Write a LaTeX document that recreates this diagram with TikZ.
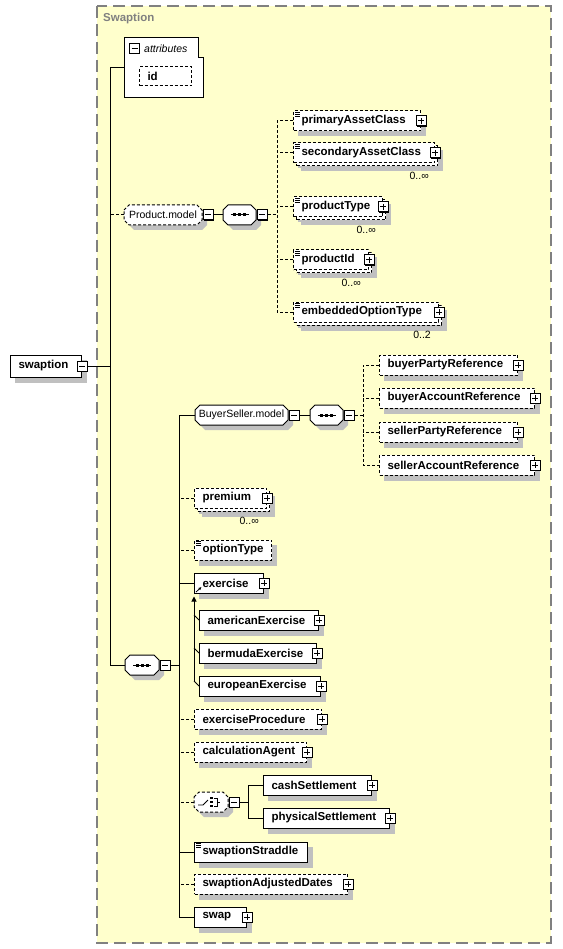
\documentclass[tikz,border=0pt]{standalone}
\usepackage{fontspec}
\setmainfont{Liberation Sans}
\usetikzlibrary{shadows,arrows.meta,calc}
\definecolor{bgy}{RGB}{255,255,204}
\definecolor{shd}{RGB}{192,192,192}
\definecolor{frm}{RGB}{128,128,128}
\pgfdeclarelayer{frmlayer}
\pgfdeclarelayer{shdlayer}
\pgfsetlayers{frmlayer,shdlayer,main}
\newcommand\elfont{\fontsize{11.5}{13}\selectfont\bfseries}
\newcommand\rgfont{\fontsize{10.5}{12}\selectfont}
\newcommand\mtfont{\fontsize{10.5}{12}\selectfont}
\tikzset{
  base/.style={draw, line width=1pt, fill=white, inner sep=0pt},
  el/.style={base, rectangle, anchor=west, minimum height=20pt, inner xsep=8pt, align=left, font=\elfont},
  opt/.style={dash pattern=on 3pt off 2pt},
  rep/.style={copy shadow={shadow xshift=3pt, shadow yshift=-3pt, draw=black, fill=white, line width=1pt, dash pattern=on 3pt off 2pt}},
  octtext/.style={rectangle, minimum height=20pt, inner sep=0pt, font=\rgfont},
  icon/.style={draw, line width=1pt, fill=white, minimum size=10pt, inner sep=0pt},
  plusi/.style={icon, path picture={
      \draw[line width=1pt] ($(path picture bounding box.center)+(-3,0)$) -- ($(path picture bounding box.center)+(3,0)$);
      \draw[line width=1pt] ($(path picture bounding box.center)+(0,-3)$) -- ($(path picture bounding box.center)+(0,3)$);}},
  minusi/.style={icon, path picture={
      \draw[line width=1pt] ($(path picture bounding box.center)+(-3,0)$) -- ($(path picture bounding box.center)+(3,0)$);}},
  mult/.style={font=\mtfont, inner sep=0pt, anchor=north east},
  conn/.style={line width=1pt},
}
\newcommand\xshadow[2]{%
  \begin{pgfonlayer}{shdlayer}
  \fill[shd] ($(#1.south west)+(#2,#2)$) rectangle ($(#1.north east)+(#2,#2)$);
  \end{pgfonlayer}}
\newcommand\xbox[6]{%
  \pgfmathsetmacro\xw{#4-#2}\pgfmathsetmacro\xtw{#4-#2-16}%
  \node[el,#5,minimum width=\xw pt,text width=\xtw pt] (#1) at (#2,#3) {\mbox{#6}};
  \xshadow{#1}{5}}
\newcommand\xplus[1]{%
  \fill ($(#1.east)+(-4,-4)$) rectangle ($(#1.east)+(6,6)$);
  \node[plusi] (#1p) at (#1.east) {};}
% minus icon: name, parent node
\newcommand\xminus[2]{%
  \fill ($(#2.east)+(2,-4)$) rectangle ($(#2.east)+(12,6)$);
  \node[minusi] (#1) at ($(#2.east)+(6,0)$) {};}
\newcommand\xdoc[1]{%
  \foreach \dy in {1.5,3.5,5.5}{\draw[line width=0.7pt] ($(#1.north west)+(2,\dy)$) -- ++(5,0);}}
% octagon: name, cx, cy, width, draw options, text
\newcommand\xoct[6]{%
  \pgfmathsetmacro\xa{#2-#4/2}\pgfmathsetmacro\xb{#2+#4/2}%
  \fill[shd, shift={(5,5)}] (\xa,#3-5) -- (\xa+5,#3-10) -- (\xb-5,#3-10) -- (\xb,#3-5) -- (\xb,#3+5) -- (\xb-5,#3+10) -- (\xa+5,#3+10) -- (\xa,#3+5) -- cycle;
  \draw[line width=1pt, fill=white, #5] (\xa,#3-5) -- (\xa+5,#3-10) -- (\xb-5,#3-10) -- (\xb,#3-5) -- (\xb,#3+5) -- (\xb-5,#3+10) -- (\xa+5,#3+10) -- (\xa,#3+5) -- cycle;
  \node[octtext, minimum width=#4 pt] (#1) at (#2,#3) {#6};}
\newcommand\xseq[1]{%
  \draw[line width=1pt] ($(#1.center)+(-9,0)$) -- ($(#1.center)+(9,0)$);
  \foreach \dx in {-5,0,5}{\fill ($(#1.center)+(\dx-1.5,-1.5)$) rectangle ++(3,3);}}
\begin{document}
\begin{tikzpicture}[x=1pt,y=-1pt]
\useasboundingbox (0,0) rectangle (562,949);
% frame
\begin{pgfonlayer}{frmlayer}
\draw[frm, line width=1.5pt, dash pattern=on 12pt off 6pt, fill=bgy] (97,6) rectangle (551,943);
\end{pgfonlayer}
\node[font=\elfont, text=frm, anchor=west, inner sep=0pt] (title) at (103,19) {Swaption};

% root
\xbox{sw}{10}{366}{81}{minimum height=22pt}{swaption}
\fill ($(sw.east)+(-4,-4)$) rectangle ($(sw.east)+(6,6)$);
\node[minusi] (swm) at (sw.east) {};

% attributes
\node[rectangle, minimum width=78pt, minimum height=59pt, inner sep=0pt] (attr) at (164,67.5) {};
\draw[line width=1pt, fill=white] (attr.north west) -- ($(attr.north east)+(-5,0)$) -- ($(attr.north east)+(-5,20)$)
  -- ($(attr.north east)+(0,20)$) -- (attr.south east) -- (attr.south west) -- cycle;
\node[minusi] (attrm) at (134.5,49) {};
\node[font=\rgfont\itshape, anchor=west, inner sep=0pt] (attrt) at (144,49) {attributes};
\xbox{id}{139}{76.5}{191}{opt, minimum height=19pt}{id}

% Product.model group
\xoct{pm}{163}{215}{78}{dash pattern=on 3pt off 2pt}{Product.model}
\xminus{pmm}{pm}
\xoct{sq2}{239.5}{215}{33}{}{}
\xseq{sq2}
\xminus{sq2m}{sq2}

\xbox{pac}{293}{121}{420}{opt}{primaryAssetClass}
\xbox{sac}{293}{153}{434}{opt,rep}{secondaryAssetClass}
\xbox{pt}{293}{207}{382}{opt,rep}{productType}
\xbox{pid}{293}{260}{368}{opt,rep}{productId}
\xbox{eot}{293}{312}{438}{opt,rep}{embeddedOptionType}
\foreach \n in {sac,pt,pid,eot}{\xshadow{\n}{8}}
\foreach \n in {pac,sac,pt,pid,eot}{\xplus{\n}\xdoc{\n}}
\node[mult] (sacm) at ($(sac.south east)+(-6,8)$) {0..∞};
\node[mult] (ptm) at ($(pt.south east)+(-7,8)$) {0..∞};
\node[mult] (pidm) at ($(pid.south east)+(-8,8)$) {0..∞};
\node[mult] (eotm) at ($(eot.south east)+(-8,8)$) {0..2};

% main sequence
\xoct{sq1}{142}{665}{34}{}{}
\xseq{sq1}
\xminus{sq1m}{sq1}

% BuyerSeller group
\xoct{bs}{241.5}{415}{93}{}{BuyerSeller.model}
\xminus{bsm}{bs}
\xoct{sq3}{326.5}{415}{33}{}{}
\xseq{sq3}
\xminus{sq3m}{sq3}
\xbox{bpr}{379}{365}{517}{opt}{buyerPartyReference}
\xbox{bar}{379}{398}{534}{opt}{buyerAccountReference}
\xbox{spr}{379}{432}{517}{opt}{sellerPartyReference}
\xbox{sar}{379}{465}{534}{opt}{sellerAccountReference}
\foreach \n in {bpr,bar,spr,sar}{\xplus{\n}}

% main children
\xbox{prem}{194}{498}{266}{opt,rep}{premium}
\xshadow{prem}{8}
\xplus{prem}
\node[mult] (premm) at ($(prem.south east)+(-8,8)$) {0..∞};
\xbox{ot}{194}{550}{271}{opt}{optionType}
\xdoc{ot}
\xbox{ex}{194}{583}{263}{}{exercise}
\xplus{ex}
\draw[line width=0.8pt, -{Latex[length=3pt,width=3pt]}] ($(ex.south west)+(2,-1.5)$) -- ($(ex.south west)+(7.5,-6.5)$);
\xbox{am}{199}{620}{318}{}{americanExercise}
\xbox{bm}{199}{653}{316}{}{bermudaExercise}
\xbox{eu}{199}{686}{320}{}{europeanExercise}
\foreach \n in {am,bm,eu}{\xplus{\n}}
\xbox{ep}{194}{719}{321}{opt}{exerciseProcedure}
\xplus{ep}
\xbox{ca}{194}{752}{306}{opt}{calculationAgent}
\xplus{ca}
\xoct{ch}{211}{802}{34}{dash pattern=on 3pt off 2pt}{}
\xminus{chm}{ch}
\draw[line width=0.9pt] ($(ch.center)+(-13,3)$) -- ($(ch.center)+(-8,3)$) -- ($(ch.center)+(-3,-2)$);
\foreach \dy in {-4,0,4}{\fill ($(ch.center)+(-1,\dy-1)$) rectangle ++(2.5,2.2);}
\draw[line width=0.9pt] ($(ch.center)+(3,-4)$) -- ($(ch.center)+(6,-4)$) -- ($(ch.center)+(6,4.5)$) -- ($(ch.center)+(3,4.5)$);
\draw[line width=0.9pt] ($(ch.center)+(6,0.5)$) -- ($(ch.center)+(9,0.5)$);
\xbox{cs}{263}{785}{371}{}{cashSettlement}
\xbox{ps}{263}{818}{389}{}{physicalSettlement}
\xplus{cs}\xplus{ps}
\xbox{ss}{194}{852}{307}{}{swaptionStraddle}
\xdoc{ss}
\xbox{sad}{194}{884}{347}{opt}{swaptionAdjustedDates}
\xplus{sad}
\xbox{swp}{194}{917}{246}{}{swap}
\xplus{swp}

% connectors
\coordinate (trunk) at (110,0);
\coordinate (pv) at (277,0);
\coordinate (mv) at (179,0);
\coordinate (bv) at (363,0);
\coordinate (cv) at (248,0);
\draw[conn] (swm.east) -- (swm.east -| trunk);
\draw[conn] (attr.west) -| (sq1.west -| trunk) -- (sq1.west);
\draw[conn, opt] (pm.west) -- (pm.west -| trunk);
\draw[conn] (pmm.east) -- (sq2.west);
\draw[conn, opt] (sq2m.east) -- (sq2m.east -| pv);
\draw[conn, opt] (pac.west) -| (eot.west -| pv) -- (eot.west);
\foreach \n in {sac,pt,pid}{\draw[conn, opt] (\n.west) -- (\n.west -| pv);}
\draw[conn] (sq1m.east) -- (sq1m.east -| mv);
\draw[conn] (bs.west) -| (swp.west -| mv) -- (swp.west);
\draw[conn] (bsm.east) -- (sq3.west);
\draw[conn, opt] (sq3m.east) -- (sq3m.east -| bv);
\draw[conn, opt] (bpr.west) -| (sar.west -| bv) -- (sar.west);
\foreach \n in {bar,spr}{\draw[conn, opt] (\n.west) -- (\n.west -| bv);}
\foreach \n in {prem,ot,ep,ca,ch,sad}{\draw[conn, opt] (\n.west) -- (\n.west -| mv);}
\foreach \n in {ex,ss}{\draw[conn] (\n.west) -- (\n.west -| mv);}
\draw[conn, -{Triangle[length=5pt,width=5pt]}] ($(eu.west)+(-5,-5)$) -- ($(ex.south west)+(0,3)$);
\foreach \n in {am,bm,eu}{\draw[conn] ($(\n.west)+(-5,-5)$) -- (\n.west);}
\draw[conn] (chm.east) -- (chm.east -| cv);
\draw[conn] (cs.west) -| (ps.west -| cv) -- (ps.west);
\end{tikzpicture}
\end{document}
